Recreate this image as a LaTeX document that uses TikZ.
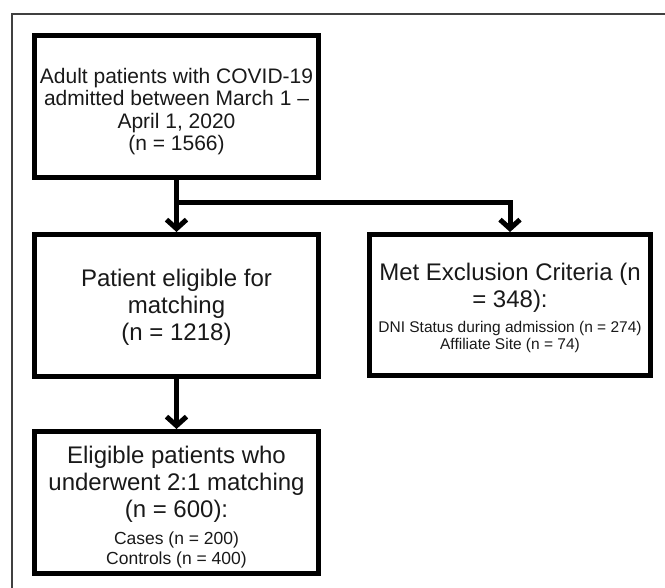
\documentclass[tikz,border=0pt]{standalone}
\usepackage{fontspec}
\setmainfont{Liberation Sans}
\usetikzlibrary{arrows.meta}
\begin{document}
\begin{tikzpicture}[x=1pt,y=-1pt,
  box/.style={draw=black,line width=5pt,inner sep=0pt,
    minimum width=284pt,minimum height=142pt},
  txt/.style={align=center,inner sep=0pt,text=black!90},
  big/.style={font=\fontsize{24}{27}\selectfont},
  mid/.style={font=\fontsize{21}{22.5}\selectfont},
  conn/.style={line width=5pt,black,-{Straight Barb[length=9pt,width=20pt]}},
  frame/.style={line width=1.5pt,black!75}]
\useasboundingbox (0,0) rectangle (665,588);
\coordinate (f1) at (12,588);
\coordinate (f2) at (12,14);
\coordinate (f3) at (665,14);
\draw[frame] (f1) -- (f2) -- (f3);
\node[box] (b1) at (176.5,106.5) {};
\node[box] (b2) at (176.5,305.5) {};
\node[box,minimum width=281pt,minimum height=141pt] (b3) at (510,305) {};
\node[box] (b4) at (176.5,502.5) {};
\node[txt,mid,yshift=-5pt] (t1) at (b1.center) {Adult patients with COVID-19\\admitted between March 1 –\\April 1, 2020\\(n = 1566)};
\node[txt,big,yshift=-2pt] (t2) at (b2.center) {Patient eligible for\\matching\\(n = 1218)};
\node[txt,big,yshift=-3pt] (t3) at (b3.center) {Met Exclusion Criteria (n\\= 348):\\[-2pt]{\fontsize{15.5}{16}\selectfont DNI Status during admission (n = 274)}\\[-10pt]{\fontsize{15.5}{16}\selectfont Affiliate Site (n = 74)}};
\node[txt,big,yshift=-5pt] (t4) at (b4.center) {Eligible patients who\\underwent 2:1 matching\\(n = 600):\\{\fontsize{17.5}{19}\selectfont Cases (n = 200)}\\[-7pt]{\fontsize{17.5}{19}\selectfont Controls (n = 400)}};
\coordinate (j) at (176.5,203);
\draw[conn] (b1.south) -- (b2.north);
\draw[conn] (j) -| (b3.north);
\draw[conn] (b2.south) -- (b4.north);
\end{tikzpicture}
\end{document}
